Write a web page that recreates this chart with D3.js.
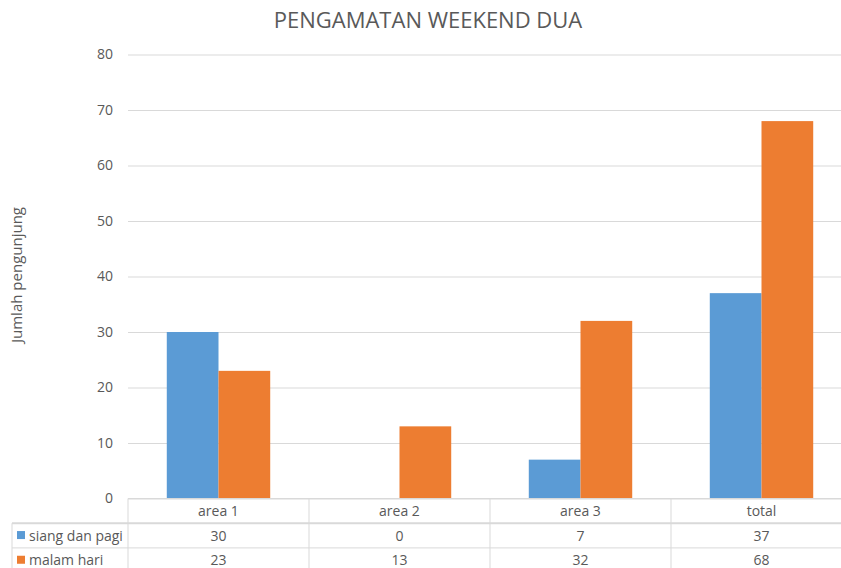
<!DOCTYPE html>
<html>
<head>
<meta charset="utf-8">
<script src="https://cdn.jsdelivr.net/npm/d3@7"></script>
<style>
  html, body { margin: 0; padding: 0; background: #fff; }
  svg text { font-family: "Open Sans", sans-serif; fill: #595959; }
</style>
</head>
<body>
<div id="root"></div>
<script>
// chart data
const categories = ["area 1", "area 2", "area 3", "total"];
const seriesNames = ["siang dan pagi", "malam hari"];
const siangValues = [30, 0, 7, 37];
const malamValues = [23, 13, 32, 68];
const yTicks = [0, 10, 20, 30, 40, 50, 60, 70, 80];

const width = 841, height = 568;
const margin = { left: 128, right: -11, top: 54.5, bottom: 69.5 };
const colors = ["#5B9BD5", "#ED7D31"];
const gridColor = "#d9d9d9";

const seriesValues = [siangValues, malamValues];

const svg = d3.select("#root")
  .append("svg")
  .attr("width", width)
  .attr("height", height)
  .attr("viewBox", [0, 0, width, height]);

// scales
const x = d3.scaleBand()
  .domain(categories)
  .range([margin.left, width - margin.right])
  .paddingInner(0)
  .paddingOuter(0);

// excel gap width 150% -> outer padding 0.75 of a bar
const xSub = d3.scaleBand()
  .domain(seriesNames)
  .range([0, x.bandwidth()])
  .paddingInner(0)
  .paddingOuter(0.75);

const y = d3.scaleLinear()
  .domain([0, 80])
  .range([height - margin.bottom, margin.top]);

// title
svg.append("text")
  .attr("x", 428)
  .attr("y", 28)
  .attr("text-anchor", "middle")
  .style("font-size", "22px")
  .text("PENGAMATAN WEEKEND DUA");

// y axis label
svg.append("text")
  .attr("transform", `translate(22, ${275}) rotate(-90)`)
  .attr("text-anchor", "middle")
  .style("font-size", "15px")
  .text("Jumlah pengunjung");

// gridlines + tick labels via axis
const yAxis = svg.append("g")
  .attr("transform", `translate(${margin.left}, 0)`)
  .call(d3.axisLeft(y)
    .tickValues(yTicks)
    .tickSize(-(width - margin.right - margin.left))
    .tickPadding(15));

yAxis.select(".domain").remove();
yAxis.selectAll(".tick line")
  .attr("stroke", gridColor)
  .attr("stroke-width", 1);
yAxis.selectAll(".tick text")
  .attr("fill", "#595959")
  .style("font-size", "14px")
  .style("font-family", "'Open Sans', sans-serif");

// bars
const groups = svg.append("g")
  .selectAll("g")
  .data(seriesNames)
  .join("g")
  .attr("fill", (d, i) => colors[i]);

groups.selectAll("rect")
  .data((name, si) => categories.map((c, ci) => ({ cat: c, name, value: seriesValues[si][ci] })))
  .join("rect")
  .attr("x", d => x(d.cat) + xSub(d.name))
  .attr("y", d => y(d.value))
  .attr("width", xSub.bandwidth())
  .attr("height", d => y(0) - y(d.value));

// data table
const rowH = 24.7;
const y0 = y(0);
const tableLeft = 12;
const xEnd = width - margin.right;
const table = svg.append("g");

// horizontal lines
[0, 1, 2].forEach(r => {
  table.append("line")
    .attr("x1", r === 0 ? margin.left : tableLeft)
    .attr("x2", xEnd)
    .attr("y1", y0 + r * rowH)
    .attr("y2", y0 + r * rowH)
    .attr("stroke", gridColor)
    .attr("stroke-width", r === 1 ? 2 : 1);
});

// vertical lines
table.append("line")
  .attr("x1", tableLeft).attr("x2", tableLeft)
  .attr("y1", y0 + rowH).attr("y2", height)
  .attr("stroke", gridColor);

categories.forEach(c => {
  table.append("line")
    .attr("x1", x(c)).attr("x2", x(c))
    .attr("y1", y0).attr("y2", height)
    .attr("stroke", gridColor);
});

// header row: category names
table.selectAll("text.cat")
  .data(categories)
  .join("text")
  .attr("class", "cat")
  .attr("x", d => x(d) + x.bandwidth() / 2)
  .attr("y", y0 + rowH / 2 + 5)
  .attr("text-anchor", "middle")
  .style("font-size", "14px")
  .text(d => d);

// series rows
seriesNames.forEach((name, si) => {
  const rowMid = y0 + (si + 1) * rowH + rowH / 2;

  table.append("rect")
    .attr("x", 17)
    .attr("y", rowMid - 4.5)
    .attr("width", 8)
    .attr("height", 8)
    .attr("fill", colors[si]);

  table.append("text")
    .attr("x", 29)
    .attr("y", rowMid + 5)
    .style("font-size", "14px")
    .text(name);

  table.selectAll(`text.v${si}`)
    .data(seriesValues[si])
    .join("text")
    .attr("class", `v${si}`)
    .attr("x", (d, i) => x(categories[i]) + x.bandwidth() / 2)
    .attr("y", rowMid + 5)
    .attr("text-anchor", "middle")
    .style("font-size", "14px")
    .text(d => d);
});
</script>
</body>
</html>
